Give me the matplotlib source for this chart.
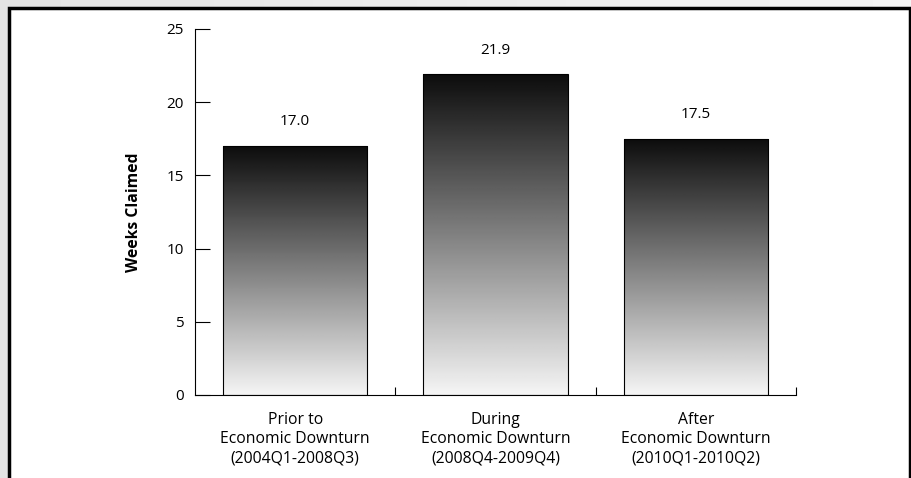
import numpy as np
import matplotlib
matplotlib.use('Agg')
import matplotlib.pyplot as plt
from matplotlib.patches import Rectangle

plt.rcParams['font.family'] = ['Open Sans', 'DejaVu Sans']

categories = ['Prior to\nEconomic Downturn\n(2004Q1-2008Q3)',
              'During\nEconomic Downturn\n(2008Q4-2009Q4)',
              'After\nEconomic Downturn\n(2010Q1-2010Q2)']
weeks = [17.0, 21.9, 17.5]
yticks = [0, 5, 10, 15, 20, 25]

fig = plt.figure(figsize=(9.12, 4.78), dpi=100)

# light grey page behind the framed panel
bg = fig.add_axes([0, 0, 1, 1], zorder=-10)
bg.imshow(np.linspace(0.89, 0.96, 256)[None, :], cmap='gray', vmin=0, vmax=1,
          aspect='auto', extent=[0, 1, 0, 1])
bg.set_xlim(0, 1)
bg.set_ylim(0, 1)
bg.axis('off')
W, H = 912.0, 478.0
bg.add_patch(Rectangle((9 / W, -0.05), 901 / W, 1.05 - 8 / H,
                       facecolor='white', edgecolor='black', lw=2.5))

ax = fig.add_axes([195 / W, 83 / H, 601 / W, 366 / H])
ax.set_facecolor('none')
x = np.arange(len(weeks))
bars = ax.bar(x, weeks, width=0.72, color='none', edgecolor='black', lw=0.8, zorder=3)

# vertical black-to-white fill inside each bar
grad = np.linspace(0.96, 0.05, 256)[:, None]
for b in bars:
    x0, y0 = b.get_x(), b.get_y()
    im = ax.imshow(grad, cmap='gray', vmin=0, vmax=1, aspect='auto',
                   extent=[x0, x0 + b.get_width(), y0, y0 + b.get_height()],
                   origin='lower', zorder=2)
    im.set_clip_path(b)

for xi, v in zip(x, weeks):
    ax.annotate(f'{v:.1f}', (xi, v), xytext=(0, 12), textcoords='offset points',
                ha='center', va='bottom', fontsize=11)

ax.set_xlim(-0.5, 2.5)
ax.set_ylim(0, 25)
ax.set_yticks(yticks)
ax.set_xticks(x)
ax.set_xticklabels(categories, fontsize=11.3, linespacing=1.3)
ax.set_xticks([0.5, 1.5, 2.5], minor=True)
ax.tick_params(axis='x', which='major', length=0, pad=12)
ax.tick_params(axis='x', which='minor', direction='in', length=6, width=0.8)
ax.tick_params(axis='y', direction='in', length=11, width=0.8, labelsize=11, pad=8)
for s in ['top', 'right']:
    ax.spines[s].set_visible(False)
for s in ['left', 'bottom']:
    ax.spines[s].set_linewidth(0.8)
ax.set_ylabel('Weeks Claimed', fontsize=11.3, fontweight='bold', labelpad=18)

fig.savefig('out.png', dpi=100)
